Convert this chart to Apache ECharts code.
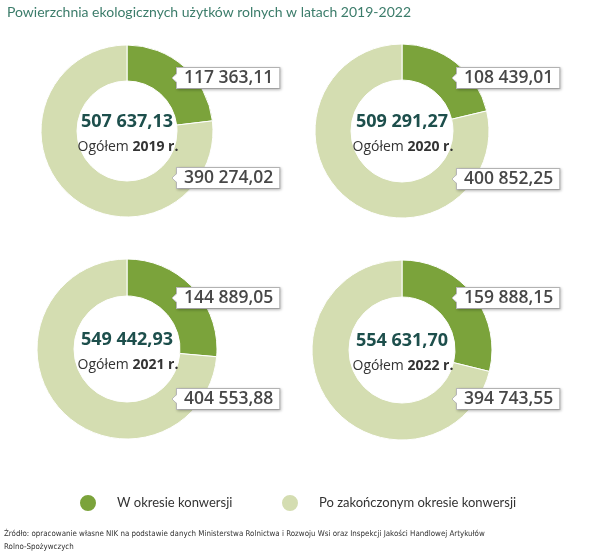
<!DOCTYPE html>
<html>
<head>
<meta charset="utf-8">
<script src="https://cdn.jsdelivr.net/npm/echarts@6/dist/echarts.min.js"></script>
<style>
html,body{margin:0;padding:0;background:#fff;}
#chart{width:600px;height:557px;}
</style>
</head>
<body>
<div id="chart"></div>
<script>
// ---- data ----
const years = ['2019', '2020', '2021', '2022'];
const inConversion = [117363.11, 108439.01, 144889.05, 159888.15];
const afterConversion = [390274.02, 400852.25, 404553.88, 394743.55];
const totals = [507637.13, 509291.27, 549442.93, 554631.70];
const categoryNames = ['W okresie konwersji', 'Po zakończonym okresie konwersji'];
const titleText = 'Powierzchnia ekologicznych użytków rolnych w latach 2019-2022';
const sourceText = 'Źródło: opracowanie własne NIK na podstawie danych Ministerstwa Rolnictwa i Rozwoju Wsi oraz Inspekcji Jakości Handlowej Artykułów\nRolno-Spożywczych';

// ---- layout ----
const centers = [[127, 131], [402, 131], [127, 349], [402, 350]];
const radii = [[50, 86], [51, 87], [53, 90], [53, 90]];
const labelX = [177, 457, 177, 457];
const labelTopY = [78, 78, 298, 298];
const labelBotY = [178, 179, 399, 399];
const colors = ['#7ba33b', '#d4ddb1'];

function fmt(v) {
  const parts = v.toFixed(2).split('.');
  return parts[0].replace(/\B(?=(\d{3})+(?!\d))/g, ' ') + ',' + parts[1];
}

const FONT = '"Open Sans", sans-serif';
const FONT2 = 'Lato, sans-serif';

const series = years.map((y, i) => ({
  type: 'pie',
  name: y,
  center: centers[i],
  radius: radii[i],
  startAngle: 90,
  clockwise: true,
  avoidLabelOverlap: false,
  silent: true,
  itemStyle: { borderColor: '#fff', borderWidth: 1 },
  label: {
    show: true,
    position: 'outside',
    formatter: p => fmt(p.value),
    fontFamily: FONT,
    fontSize: 17.5,
    fontWeight: 600,
    color: '#474747',
    lineHeight: 18,
    backgroundColor: '#fff',
    borderColor: '#b9b9b9',
    borderWidth: 1,
    padding: [1, 6, 1, 7],
    shadowColor: 'rgba(0,0,0,0.22)',
    shadowBlur: 3,
    shadowOffsetX: 1,
    shadowOffsetY: 1
  },
  labelLine: { show: false },
  labelLayout: p => ({
    x: labelX[i],
    y: p.dataIndex === 0 ? labelTopY[i] : labelBotY[i],
    align: 'left',
    verticalAlign: 'middle'
  }),
  data: [
    { name: categoryNames[0], value: inConversion[i], itemStyle: { color: colors[0] } },
    { name: categoryNames[1], value: afterConversion[i], itemStyle: { color: colors[1] } }
  ]
}));

const centerTitles = [];
years.forEach((y, i) => {
  centerTitles.push({
    text: fmt(totals[i]),
    left: centers[i][0],
    top: centers[i][1] - 19,
    textAlign: 'center',
    padding: 0,
    textStyle: { fontFamily: FONT, fontSize: 18, lineHeight: 20, fontWeight: 700, color: '#1d4f4c' }
  });
  centerTitles.push({
    text: 'Ogółem {b|' + y + ' r.}',
    left: centers[i][0] + 1,
    top: centers[i][1] + 8,
    textAlign: 'center',
    padding: 0,
    textStyle: {
      fontFamily: FONT, fontSize: 14, lineHeight: 16, fontWeight: 'normal', color: '#333',
      rich: { b: { fontFamily: FONT, fontSize: 14, lineHeight: 16, fontWeight: 700, color: '#333' } }
    }
  });
});

const notches = [];
years.forEach((y, i) => {
  [labelTopY[i], labelBotY[i]].forEach(ly => {
    notches.push({
      type: 'polygon', z: 100, x: labelX[i], y: ly,
      shape: { points: [[1, -5], [-5, 0], [1, 5]] },
      style: { fill: '#fff', stroke: null }
    });
    notches.push({
      type: 'polyline', z: 101, x: labelX[i], y: ly,
      shape: { points: [[0, -5], [-5, 0], [0, 5]] },
      style: { stroke: '#b9b9b9', lineWidth: 1, fill: null }
    });
  });
});

const legendBase = {
  icon: 'circle',
  itemWidth: 18,
  itemHeight: 18,
  itemGap: 0,
  top: 493,
  padding: 0,
  selectedMode: false,
  textStyle: { fontFamily: FONT2, fontSize: 13, color: '#333', padding: [0, 0, 0, 15] }
};

const chart = echarts.init(document.getElementById('chart'));
chart.setOption({
  backgroundColor: '#fff',
  animation: false,
  title: [
    {
      text: titleText, left: 7, top: 5, padding: 0,
      textStyle: { fontFamily: FONT2, fontSize: 14, fontWeight: 'normal', color: '#3b7c6a' }
    },
    ...centerTitles,
    {
      text: sourceText, left: 4, top: 527, padding: 0,
      textStyle: { fontFamily: '"Liberation Sans Narrow", "DejaVu Sans Condensed", sans-serif', fontSize: 7.9, fontWeight: 'normal', color: '#333', lineHeight: 13 }
    }
  ],
  legend: [
    Object.assign({}, legendBase, { left: 78, data: [categoryNames[0]] }),
    Object.assign({}, legendBase, { left: 280, data: [categoryNames[1]] })
  ],
  graphic: notches,
  series: series
});
</script>
</body>
</html>
